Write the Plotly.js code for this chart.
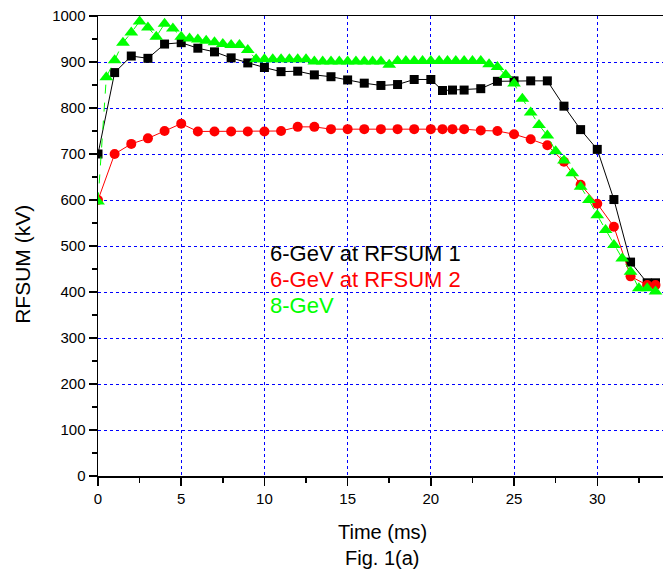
<!DOCTYPE html>
<html>
<head>
<meta charset="utf-8">
<script src="https://cdn.plot.ly/plotly-3.0.1.min.js"></script>
<style>html,body{margin:0;padding:0;background:#fff;}#chart{width:663px;height:578px;}</style>
</head>
<body>
<div id="chart"></div>
<script>
const tBlack = [0,1,2,3,4,5,6,7,8,9,10,11,12,13,14,15,16,17,18,19,20,20.7,21.3,22,23,24,25,26,27,28,29,30,31,32,33,33.5];
const vBlack = [700,877,913,908,939,942,930,922,909,898,888,879,880,872,868,861,854,849,851,862,862,838,839,839,842,858,859,859,859,804,753,710,601,465,420,420];

const tRed = [0,1,2,3,4,5,6,7,8,9,10,11,12,13,14,15,16,17,18,19,20,20.7,21.3,22,23,24,25,26,27,28,29,30,31,32,33,33.5];
const vRed = [600,700,722,734,750,766,749,749,749,749,749,750,759,759,754,754,754,754,754,754,754,754,754,754,751,750,743,732,719,683,633,592,542,434,415,415];

const tGreen = [0,0.5,1,1.5,2,2.5,3,3.5,4,4.5,5,5.5,6,6.5,7,7.5,8,8.5,9,9.5,10,10.5,11,11.5,12,12.5,13,13.5,14,14.5,15,15.5,16,16.5,17,17.5,18,18.5,19,19.5,20,20.5,21,21.5,22,22.5,23,23.5,24,24.5,25,25.5,26,26.5,27,27.5,28,28.5,29,29.5,30,30.5,31,31.5,32,32.5,33,33.5];
const vGreen = [597,867,904,942,964,988,975,955,983,973,955,951,949,946,943,939,937,937,926,906,906,906,906,906,906,906,901,901,901,901,901,901,901,901,901,894,902,902,902,902,902,902,902,902,902,902,902,895,889,872,853,820,790,763,740,706,686,658,629,600,567,535,502,473,444,408,408,401];

const seriesNames = ['6-GeV at RFSUM 1','6-GeV at RFSUM 2','8-GeV'];
const xTitle = 'Time (ms)';
const yTitle = 'RFSUM (kV)';
const figLabel = 'Fig. 1(a)';

const FONT = 'Arial, "Liberation Sans", sans-serif';
const GREEN = '#00ff00';

const traces = [
  {x: tBlack, y: vBlack, mode: 'lines+markers', name: seriesNames[0],
   line: {color: '#000000', width: 1},
   marker: {symbol: 'square', size: 9, color: '#000000'}},
  {x: tRed, y: vRed, mode: 'lines+markers', name: seriesNames[1],
   line: {color: '#ff0000', width: 1},
   marker: {symbol: 'circle', size: 10, color: '#ff0000'}},
  {x: tGreen, y: vGreen, mode: 'lines+markers', name: seriesNames[2],
   line: {color: GREEN, width: 1, dash: 'dash'},
   marker: {symbol: 'triangle-up', size: 12, color: GREEN}}
];

const layout = {
  width: 663, height: 578,
  margin: {l: 98, r: 0, t: 16, b: 102},
  paper_bgcolor: '#ffffff', plot_bgcolor: '#ffffff',
  showlegend: false,
  font: {family: FONT, size: 15, color: '#000'},
  xaxis: {
    range: [0, 33.95], tickmode: 'linear', tick0: 0, dtick: 5,
    showline: true, linecolor: '#000', linewidth: 1.5, mirror: true,
    ticks: 'outside', ticklen: 8, tickwidth: 1.5, tickcolor: '#000',
    minor: {dtick: 2.5, ticks: 'outside', ticklen: 5, tickwidth: 1.5, tickcolor: '#000', showgrid: false},
    showgrid: true, gridcolor: '#0000ff', griddash: 'dot', gridwidth: 1,
    zeroline: false, tickfont: {size: 15, family: FONT}
  },
  yaxis: {
    range: [0, 1000], tickmode: 'linear', tick0: 0, dtick: 100,
    showline: true, linecolor: '#000', linewidth: 1.5,
    ticks: 'outside', ticklen: 8, tickwidth: 1.5, tickcolor: '#000',
    minor: {dtick: 50, ticks: 'outside', ticklen: 5, tickwidth: 1.5, tickcolor: '#000', showgrid: false},
    showgrid: true, gridcolor: '#0000ff', griddash: 'dot', gridwidth: 1,
    zeroline: false, tickfont: {size: 15, family: FONT}
  },
  annotations: [
    {xref: 'paper', yref: 'paper', x: 0.301, y: 0.484, xanchor: 'left', yanchor: 'middle',
     text: seriesNames[0], showarrow: false, font: {size: 22, color: '#000000', family: FONT}},
    {xref: 'paper', yref: 'paper', x: 0.301, y: 0.427, xanchor: 'left', yanchor: 'middle',
     text: seriesNames[1], showarrow: false, font: {size: 22, color: '#ff0000', family: FONT}},
    {xref: 'paper', yref: 'paper', x: 0.301, y: 0.370, xanchor: 'left', yanchor: 'middle',
     text: seriesNames[2], showarrow: false, font: {size: 22, color: GREEN, family: FONT}},
    {xref: 'paper', yref: 'paper', x: 0.504, y: -0.1217, xanchor: 'center', yanchor: 'middle',
     text: xTitle, showarrow: false, font: {size: 20, color: '#000', family: FONT}},
    {xref: 'paper', yref: 'paper', x: 0.502, y: -0.178, xanchor: 'center', yanchor: 'middle',
     text: figLabel, showarrow: false, font: {size: 20, color: '#000', family: FONT}},
    {xref: 'paper', yref: 'paper', x: -0.133, y: 0.461, xanchor: 'center', yanchor: 'middle',
     text: yTitle, textangle: -90, showarrow: false, font: {size: 21, color: '#000', family: FONT}}
  ]
};

Plotly.newPlot('chart', traces, layout, {displayModeBar: false, staticPlot: true});
</script>
</body>
</html>
